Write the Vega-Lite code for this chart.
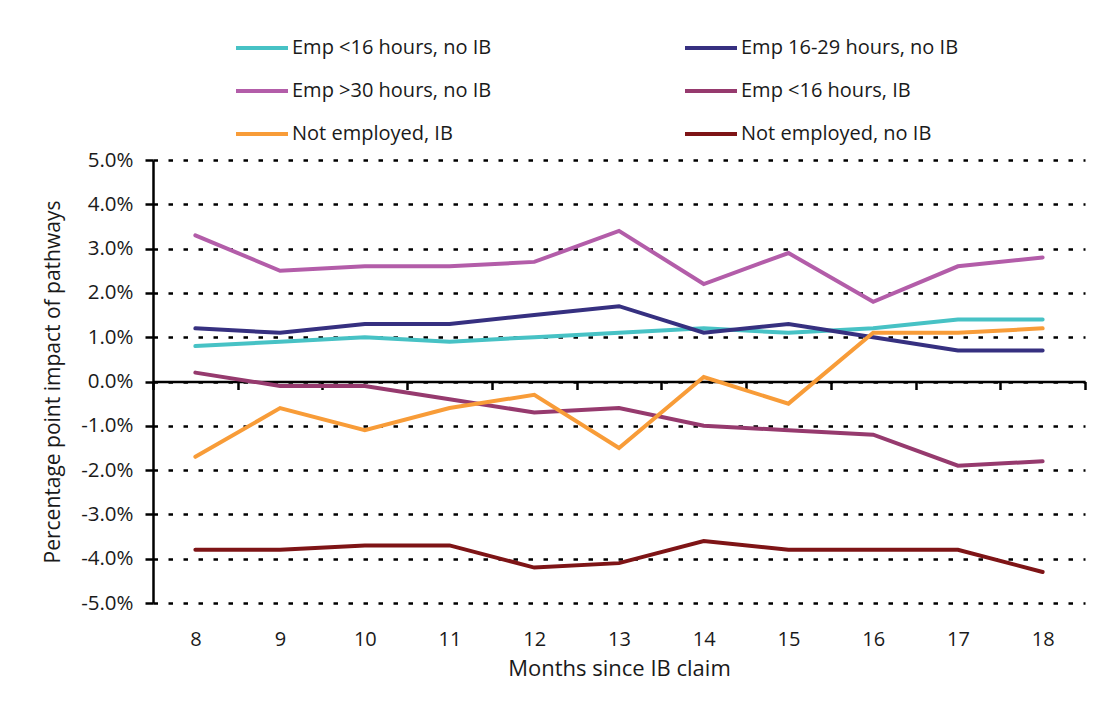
{
  "$schema": "https://vega.github.io/schema/vega-lite/v6.json",
  "autosize": {"type": "none"},
  "width": 932,
  "height": 443,
  "padding": {"left": 153, "top": 160, "right": 18, "bottom": 103},
  "background": "white",
  "config": {
    "font": "Open Sans",
    "view": {"stroke": null},
    "axis": {"labelColor": "#1a1a1a", "titleColor": "#1a1a1a", "titleFontWeight": "normal"}
  },
  "data": {"values": [
    {"month": 8, "series": "Emp <16 hours, no IB", "value": 0.8},
    {"month": 9, "series": "Emp <16 hours, no IB", "value": 0.9},
    {"month": 10, "series": "Emp <16 hours, no IB", "value": 1.0},
    {"month": 11, "series": "Emp <16 hours, no IB", "value": 0.9},
    {"month": 12, "series": "Emp <16 hours, no IB", "value": 1.0},
    {"month": 13, "series": "Emp <16 hours, no IB", "value": 1.1},
    {"month": 14, "series": "Emp <16 hours, no IB", "value": 1.2},
    {"month": 15, "series": "Emp <16 hours, no IB", "value": 1.1},
    {"month": 16, "series": "Emp <16 hours, no IB", "value": 1.2},
    {"month": 17, "series": "Emp <16 hours, no IB", "value": 1.4},
    {"month": 18, "series": "Emp <16 hours, no IB", "value": 1.4},
    {"month": 8, "series": "Emp 16-29 hours, no IB", "value": 1.2},
    {"month": 9, "series": "Emp 16-29 hours, no IB", "value": 1.1},
    {"month": 10, "series": "Emp 16-29 hours, no IB", "value": 1.3},
    {"month": 11, "series": "Emp 16-29 hours, no IB", "value": 1.3},
    {"month": 12, "series": "Emp 16-29 hours, no IB", "value": 1.5},
    {"month": 13, "series": "Emp 16-29 hours, no IB", "value": 1.7},
    {"month": 14, "series": "Emp 16-29 hours, no IB", "value": 1.1},
    {"month": 15, "series": "Emp 16-29 hours, no IB", "value": 1.3},
    {"month": 16, "series": "Emp 16-29 hours, no IB", "value": 1.0},
    {"month": 17, "series": "Emp 16-29 hours, no IB", "value": 0.7},
    {"month": 18, "series": "Emp 16-29 hours, no IB", "value": 0.7},
    {"month": 8, "series": "Emp >30  hours, no IB", "value": 3.3},
    {"month": 9, "series": "Emp >30  hours, no IB", "value": 2.5},
    {"month": 10, "series": "Emp >30  hours, no IB", "value": 2.6},
    {"month": 11, "series": "Emp >30  hours, no IB", "value": 2.6},
    {"month": 12, "series": "Emp >30  hours, no IB", "value": 2.7},
    {"month": 13, "series": "Emp >30  hours, no IB", "value": 3.4},
    {"month": 14, "series": "Emp >30  hours, no IB", "value": 2.2},
    {"month": 15, "series": "Emp >30  hours, no IB", "value": 2.9},
    {"month": 16, "series": "Emp >30  hours, no IB", "value": 1.8},
    {"month": 17, "series": "Emp >30  hours, no IB", "value": 2.6},
    {"month": 18, "series": "Emp >30  hours, no IB", "value": 2.8},
    {"month": 8, "series": "Emp <16 hours, IB", "value": 0.2},
    {"month": 9, "series": "Emp <16 hours, IB", "value": -0.1},
    {"month": 10, "series": "Emp <16 hours, IB", "value": -0.1},
    {"month": 11, "series": "Emp <16 hours, IB", "value": -0.4},
    {"month": 12, "series": "Emp <16 hours, IB", "value": -0.7},
    {"month": 13, "series": "Emp <16 hours, IB", "value": -0.6},
    {"month": 14, "series": "Emp <16 hours, IB", "value": -1.0},
    {"month": 15, "series": "Emp <16 hours, IB", "value": -1.1},
    {"month": 16, "series": "Emp <16 hours, IB", "value": -1.2},
    {"month": 17, "series": "Emp <16 hours, IB", "value": -1.9},
    {"month": 18, "series": "Emp <16 hours, IB", "value": -1.8},
    {"month": 8, "series": "Not employed, IB", "value": -1.7},
    {"month": 9, "series": "Not employed, IB", "value": -0.6},
    {"month": 10, "series": "Not employed, IB", "value": -1.1},
    {"month": 11, "series": "Not employed, IB", "value": -0.6},
    {"month": 12, "series": "Not employed, IB", "value": -0.3},
    {"month": 13, "series": "Not employed, IB", "value": -1.5},
    {"month": 14, "series": "Not employed, IB", "value": 0.1},
    {"month": 15, "series": "Not employed, IB", "value": -0.5},
    {"month": 16, "series": "Not employed, IB", "value": 1.1},
    {"month": 17, "series": "Not employed, IB", "value": 1.1},
    {"month": 18, "series": "Not employed, IB", "value": 1.2},
    {"month": 8, "series": "Not employed, no IB", "value": -3.8},
    {"month": 9, "series": "Not employed, no IB", "value": -3.8},
    {"month": 10, "series": "Not employed, no IB", "value": -3.7},
    {"month": 11, "series": "Not employed, no IB", "value": -3.7},
    {"month": 12, "series": "Not employed, no IB", "value": -4.2},
    {"month": 13, "series": "Not employed, no IB", "value": -4.1},
    {"month": 14, "series": "Not employed, no IB", "value": -3.6},
    {"month": 15, "series": "Not employed, no IB", "value": -3.8},
    {"month": 16, "series": "Not employed, no IB", "value": -3.8},
    {"month": 17, "series": "Not employed, no IB", "value": -3.8},
    {"month": 18, "series": "Not employed, no IB", "value": -4.3}
  ]},
  "mark": {"type": "line", "strokeWidth": 4, "strokeCap": "round", "strokeJoin": "miter"},
  "encoding": {
    "x": {
      "field": "month", "type": "ordinal",
      "scale": {"type": "band", "paddingInner": 0, "paddingOuter": 0},
      "bandPosition": 0.5,
      "axis": {
        "title": "Months since IB claim",
        "titleFontSize": 22, "titlePadding": 77,
        "labelAngle": 0, "labelFontSize": 20, "labelPadding": 240,
        "offset": -221.5,
        "domainColor": "#000", "domainWidth": 2.5,
        "tickColor": "#000", "tickWidth": 2.5, "tickSize": 8, "tickBand": "extent",
        "grid": false
      }
    },
    "y": {
      "field": "value", "type": "quantitative",
      "scale": {"domain": [-5, 5], "nice": false},
      "axis": {
        "title": "Percentage point impact of pathways",
        "titleFontSize": 21, "titlePadding": 17,
        "values": [-5, -4, -3, -2, -1, 0, 1, 2, 3, 4, 5],
        "labelExpr": "replace(format(datum.value, '.1f'), '\u2212', '-') + '%'",
        "labelFontSize": 20.5, "labelPadding": 12,
        "domainColor": "#000", "domainWidth": 2.5,
        "tickColor": "#000", "tickWidth": 2.5, "tickSize": 8,
        "grid": true, "gridColor": "#000", "gridWidth": 2.5, "gridDash": [4.5, 10.5]
      }
    },
    "color": {
      "field": "series", "type": "nominal",
      "scale": {
        "domain": ["Emp <16 hours, no IB", "Emp >30  hours, no IB", "Not employed, IB", "Emp 16-29 hours, no IB", "Emp <16 hours, IB", "Not employed, no IB"],
        "range": ["#47C2C5", "#B35DA9", "#F89C38", "#363080", "#963A6E", "#7E1416"]
      },
      "legend": {
        "title": null,
        "orient": "none", "legendX": 81, "legendY": -140,
        "columns": 2, "columnPadding": 180, "rowPadding": 5,
        "symbolType": "stroke", "symbolSize": 2704, "symbolStrokeWidth": 4,
        "labelFontSize": 20, "labelOffset": 2, "labelColor": "#1a1a1a",
        "labelLimit": 400
      }
    }
  }
}
